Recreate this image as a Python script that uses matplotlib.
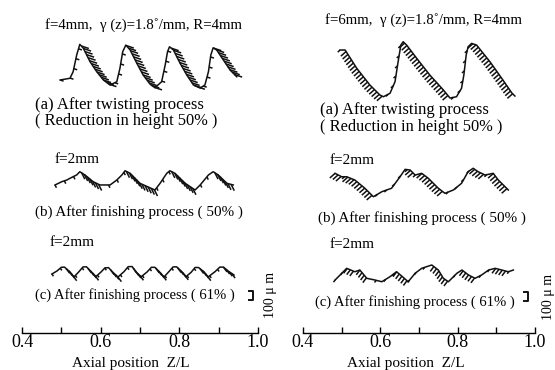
import numpy as np
import matplotlib

matplotlib.use("Agg")
import matplotlib.pyplot as plt
from matplotlib.collections import LineCollection
from matplotlib.transforms import IdentityTransform

# ---- profile data: axial position Z/L, surface height (um) above lowest valley ----
left_a_z = [0.497, 0.522, 0.530, 0.539, 0.547, 0.556, 0.573, 0.590, 0.607, 0.624,
            0.641, 0.649, 0.656, 0.664, 0.675, 0.692, 0.708, 0.726, 0.738, 0.755,
            0.764, 0.770, 0.775, 0.785, 0.802, 0.819, 0.836, 0.853, 0.865, 0.874,
            0.880, 0.886, 0.895, 0.912, 0.929, 0.946]
left_a_h = [89, 108, 181, 366, 485, 441, 292, 181, 89, 33,
            70, 219, 403, 477, 422, 274, 144, 41, 3, 70,
            255, 403, 458, 422, 274, 144, 33, 0, 33, 181,
            366, 447, 422, 311, 200, 125]

left_b_z = [0.484, 0.501, 0.514, 0.522, 0.530, 0.539, 0.547, 0.560, 0.581, 0.598,
            0.624, 0.641, 0.654, 0.662, 0.675, 0.700, 0.738, 0.751, 0.768, 0.776,
            0.789, 0.815, 0.840, 0.853, 0.874, 0.886, 0.899, 0.921, 0.937]
left_b_h = [56, 92, 111, 130, 148, 167, 203, 167, 92, 56,
            56, 111, 167, 214, 185, 74, 0, 74, 185, 214,
            185, 74, 0, 56, 167, 203, 167, 74, 56]

left_c_z = [0.476, 0.489, 0.500, 0.508, 0.522, 0.532, 0.545, 0.555, 0.564, 0.578,
            0.588, 0.601, 0.611, 0.620, 0.631, 0.644, 0.659, 0.670, 0.680, 0.690,
            0.703, 0.718, 0.729, 0.738, 0.751, 0.761, 0.774, 0.784, 0.793, 0.807,
            0.817, 0.830, 0.840, 0.849, 0.863, 0.873, 0.891, 0.903, 0.912, 0.924,
            0.939]
left_c_h = [33, 67, 108, 110, 56, 0, 60, 112, 113, 50,
            5, 56, 102, 104, 52, 0, 58, 115, 116, 55,
            3, 56, 108, 107, 50, 0, 62, 112, 113, 56,
            4, 52, 106, 105, 56, 0, 60, 110, 110, 67,
            22]

right_a_z = [0.496, 0.509, 0.539, 0.573, 0.599, 0.608, 0.625, 0.638, 0.646, 0.653,
             0.659, 0.668, 0.694, 0.728, 0.763, 0.780, 0.797, 0.810, 0.816, 0.822,
             0.827, 0.836, 0.849, 0.884, 0.917, 0.940, 0.948]
right_a_h = [533, 533, 330, 144, 33, 14, 52, 181, 403, 588,
             625, 588, 441, 255, 89, 0, 14, 108, 255, 477,
             569, 607, 588, 400, 200, 56, 22]

right_b_z = [0.483, 0.500, 0.513, 0.534, 0.560, 0.582, 0.604, 0.629, 0.651, 0.664,
             0.677, 0.690, 0.707, 0.724, 0.750, 0.767, 0.789, 0.810, 0.827, 0.840,
             0.853, 0.871, 0.892, 0.905, 0.931]
right_b_h = [263, 225, 225, 189, 97, 3, 59, 97, 225, 307,
             300, 244, 263, 208, 97, 41, 78, 152, 281, 319,
             281, 244, 263, 189, 78]

right_c_z = [0.483, 0.513, 0.534, 0.547, 0.565, 0.586, 0.604, 0.625, 0.642, 0.655,
             0.672, 0.690, 0.707, 0.733, 0.750, 0.763, 0.776, 0.798, 0.811, 0.828,
             0.845, 0.862, 0.880, 0.897, 0.914, 0.931, 0.944]
right_c_h = [22, 152, 114, 133, 41, 22, 3, 59, 114, 67,
             3, 97, 152, 189, 133, 41, 3, 97, 133, 78,
             41, 78, 133, 152, 133, 114, 133]

tick_pos = [0.4, 0.5, 0.6, 0.7, 0.8, 0.9, 1.0]
tick_lbl = ["0.4", "", "0.6", "", "0.8", "", "1.0"]

left_titles = ["f=4mm,  \u03b3 (z)=1.8\u02da/mm, R=4mm", "(a) After twisting process",
               "( Reduction in height 50% )", "f=2mm",
               "(b) After finishing process ( 50% )", "f=2mm",
               "(c) After finishing process ( 61% )"]
right_titles = ["f=6mm,  \u03b3 (z)=1.8\u02da/mm, R=4mm", "(a) After twisting process",
                "( Reduction in height 50% )", "f=2mm",
                "(b) After finishing process ( 50% )", "f=2mm",
                "(c) After finishing process ( 61% )"]

W, H = 555, 370
UM_PER_PX = 100 / 9.0
AX_BOTTOM = 332.5  # px from top
SERIF = "Liberation Serif"

fig = plt.figure(figsize=(W / 100, H / 100), dpi=100)
fig.patch.set_facecolor("white")


def make_axes(x0, x1, label_x):
    ax = fig.add_axes([x0 / W, (H - AX_BOTTOM) / H, (x1 - x0) / W, AX_BOTTOM / H])
    ax.set_xlim(0.4, 1.0)
    ax.set_ylim(0, AX_BOTTOM * UM_PER_PX)
    ax.patch.set_alpha(0)
    for s in ("top", "left", "right"):
        ax.spines[s].set_visible(False)
    ax.spines["bottom"].set_linewidth(1.0)
    ax.set_yticks([])
    ax.set_xticks(tick_pos)
    ax.set_xticklabels(tick_lbl, family=SERIF, fontsize=13)
    ax.tick_params(axis="x", direction="in", length=4.5, width=1.0, pad=1)
    ax.set_xlabel("Axial position  Z/L", family=SERIF, fontsize=11, labelpad=2)
    ax.xaxis.set_label_coords(label_x, -0.075)
    return ax


def hatch(ax, z, h, off, direction, step=3.4, length=7.0):
    pts = ax.transData.transform(np.column_stack([z, np.asarray(h) + off]))
    segs = []
    d = np.array(direction) / np.hypot(*direction)
    carry = 0.0
    k = 0
    for p, q in zip(pts[:-1], pts[1:]):
        v = q - p
        L = np.hypot(*v)
        if L == 0:
            continue
        t = carry
        while t < L:
            c = p + v * (t / L)
            falling = v[1] < -0.25 * abs(v[0])
            if falling:
                segs.append([c, c + d * length])
            elif k % 3 == 0:
                segs.append([c, c + d * length * 0.45])
            k += 1
            t += step
        carry = t - L
    lc = LineCollection(segs, colors="#111111", linewidths=1.1,
                        transform=IdentityTransform(), clip_on=False)
    fig.add_artist(lc)


def profile(ax, z, h, off_px, direction, length=7.0):
    off = (AX_BOTTOM - off_px) * UM_PER_PX
    ax.plot(z, np.asarray(h) + off, color="#111111", lw=1.1, clip_on=False)
    hatch(ax, z, h, off, direction, length=length)


def scale_bar(ax, z, y_px, zt):
    y0 = (AX_BOTTOM - y_px) * UM_PER_PX
    arm = 0.01
    ax.plot([z - arm, z, z, z - arm], [y0, y0, y0 + 100, y0 + 100],
            color="#111111", lw=1.4, clip_on=False)
    ax.text(zt, y0 + 50, "100 \u03bc m", rotation=90, ha="center", va="center",
            family=SERIF, fontsize=10, clip_on=False)


def label(x, y, s, size):
    fig.text(x / W, 1 - y / H, s, ha="left", va="center", family=SERIF, fontsize=size)


ax_l = make_axes(22, 258, 0.46)
ax_r = make_axes(303, 535, 0.445)

profile(ax_l, left_a_z, left_a_h, 88, (0.95, -0.32), length=8)
profile(ax_l, left_b_z, left_b_h, 190, (0.45, -0.9))
profile(ax_l, left_c_z, left_c_h, 277, (0.6, -0.8), length=6)
profile(ax_r, right_a_z, right_a_h, 98, (-0.75, -0.66))
profile(ax_r, right_b_z, right_b_h, 197, (-0.75, -0.66))
profile(ax_r, right_c_z, right_c_h, 282, (-0.6, -0.8), length=6)

scale_bar(ax_l, 0.987, 300, 1.031)
scale_bar(ax_r, 0.982, 301, 1.035)

lpos = [(45, 25, 10.7), (35, 105, 12), (35, 121, 11.8), (55, 159, 11),
        (35, 212, 10.9), (50, 243, 11), (35, 295, 10.5)]
rpos = [(325, 20, 10.7), (320, 110, 12), (320, 127, 11.8), (330, 160, 11),
        (318, 218, 10.9), (330, 244, 11), (315, 302, 10.5)]
for (x, y, s), t in zip(lpos, left_titles):
    label(x, y, t, s)
for (x, y, s), t in zip(rpos, right_titles):
    label(x, y, t, s)

fig.savefig("out.png", dpi=100)
